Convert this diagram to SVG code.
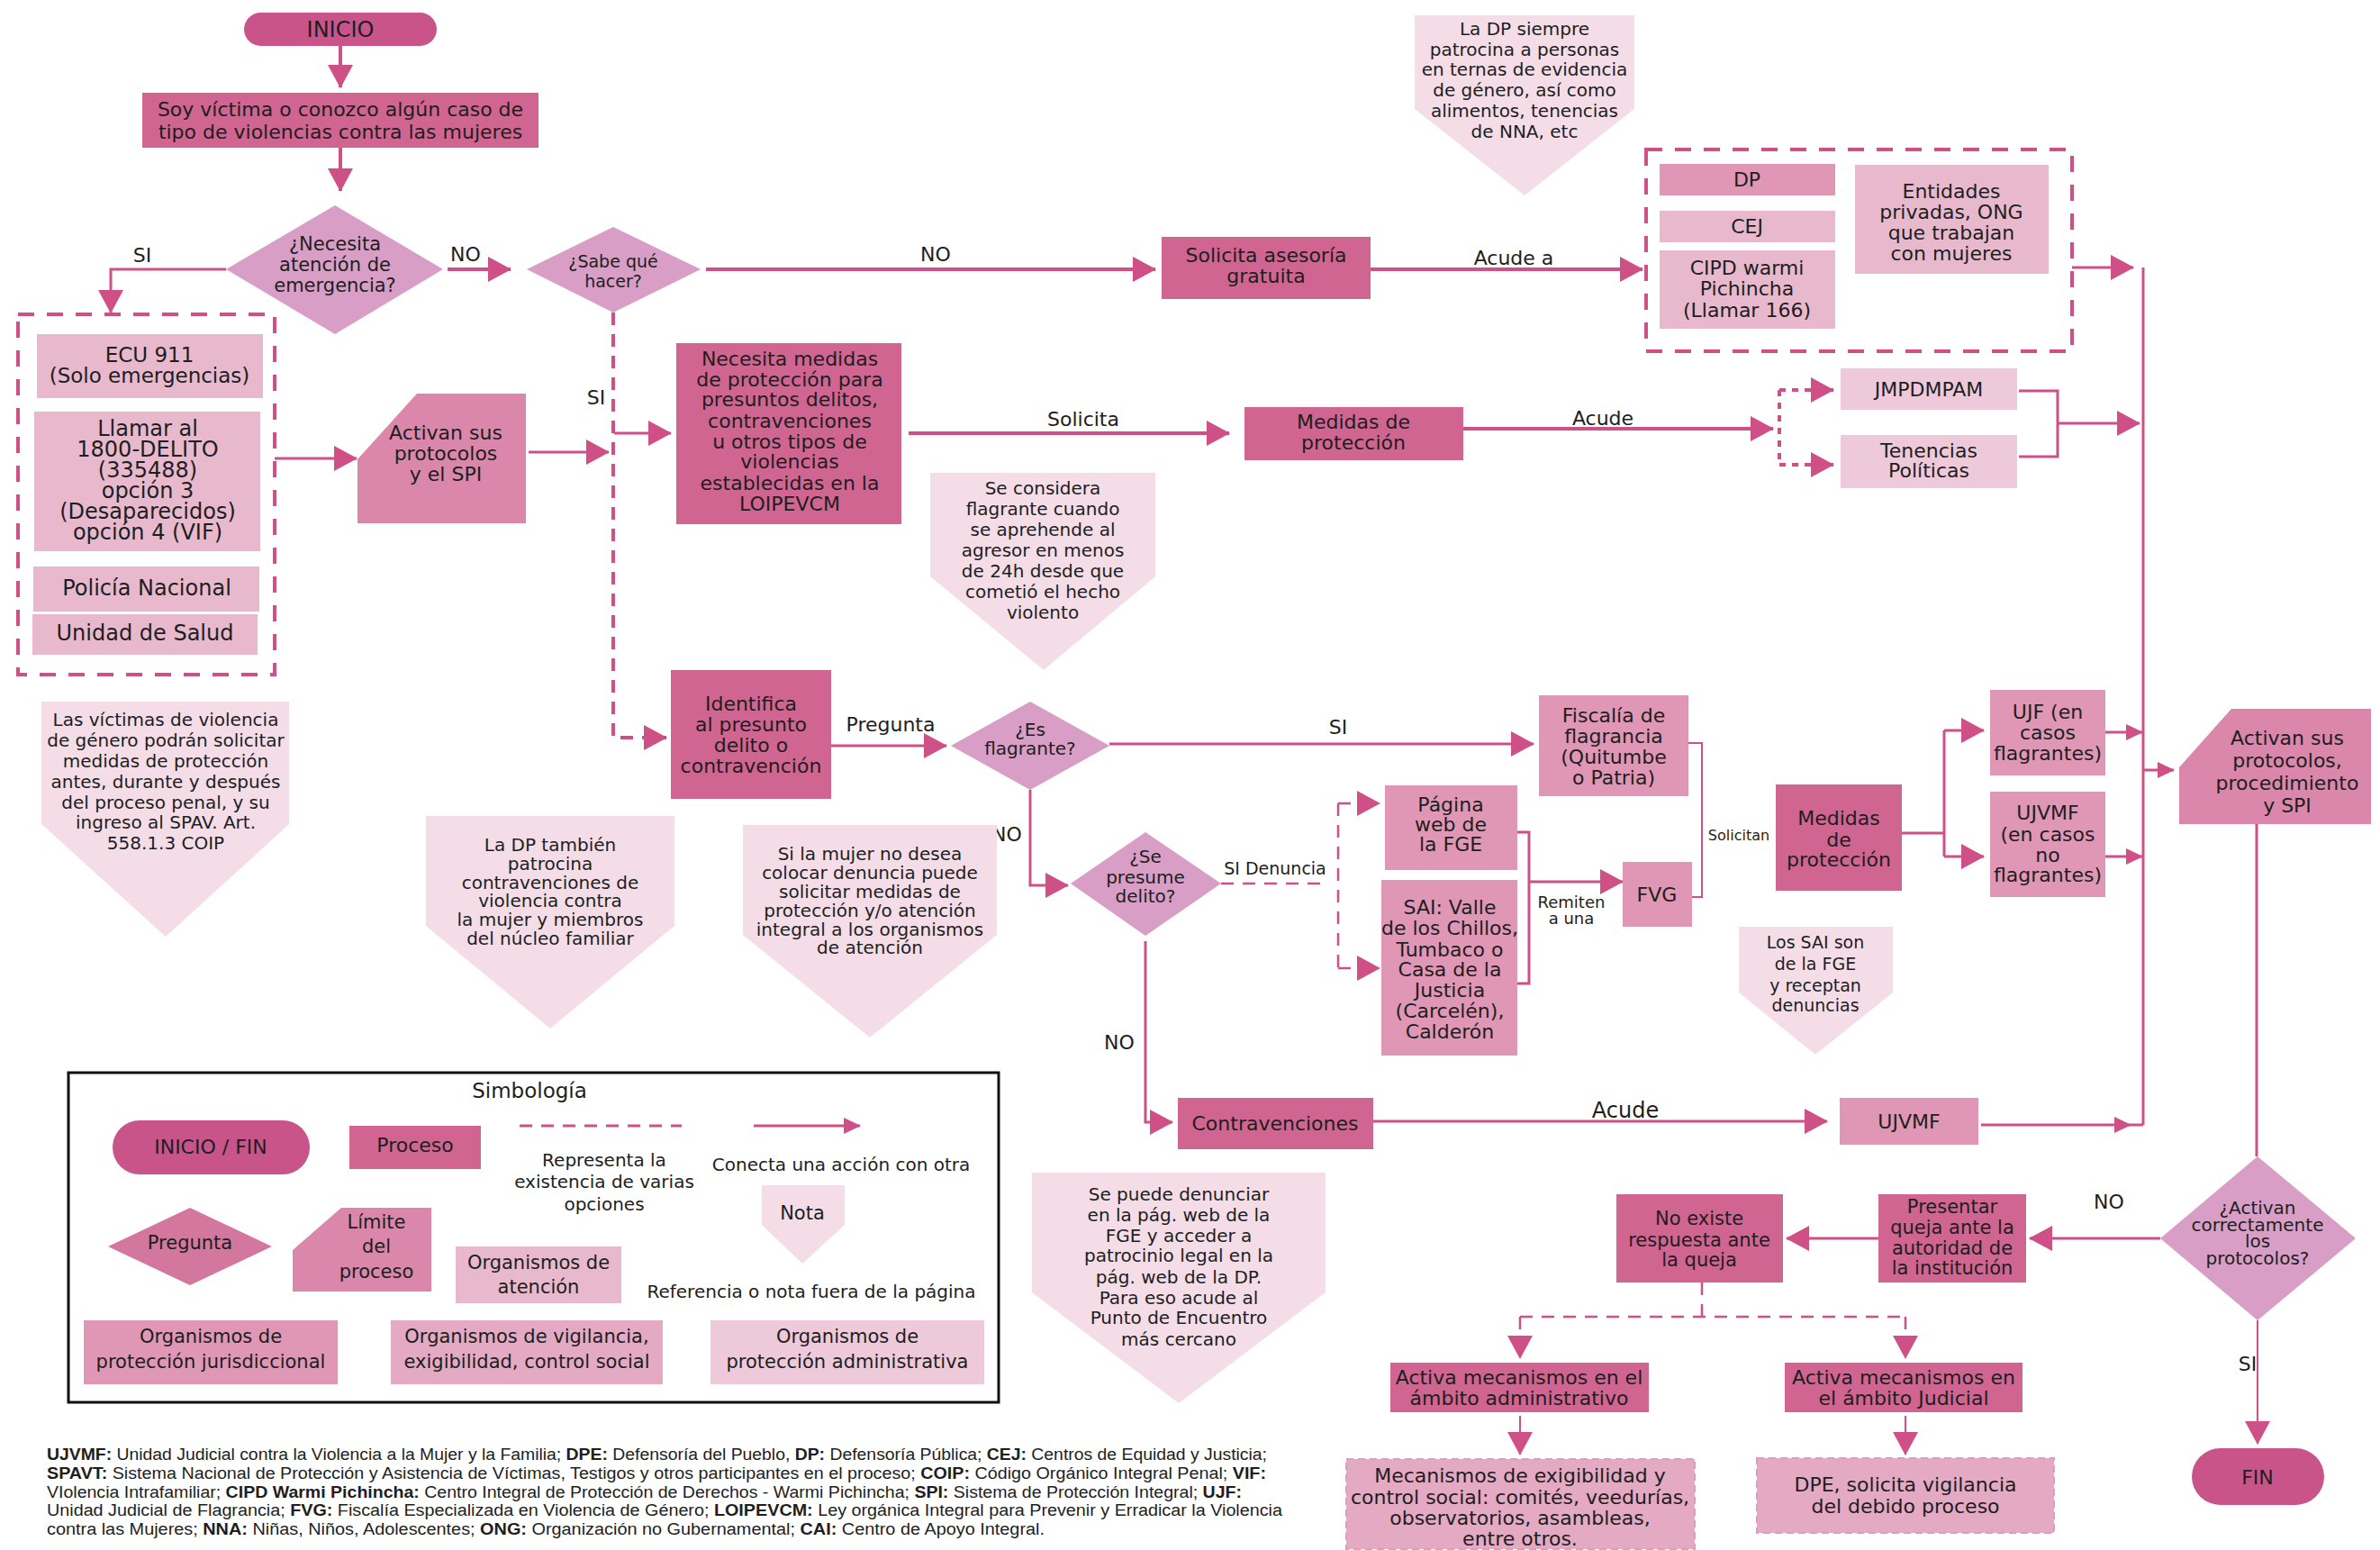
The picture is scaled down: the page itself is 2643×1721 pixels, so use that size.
<svg xmlns="http://www.w3.org/2000/svg" width="2643" height="1721" viewBox="0 0 2643 1721">
<defs>
<style>
.t{font-family:"DejaVu Sans","Liberation Sans",Arial,sans-serif;fill:#1e1e1e;text-anchor:middle}
.pill{fill:#c9548a}
.proc{fill:#d16591}
.dia{fill:#d89ec6}
.lim{fill:#da87ab}
.jur{fill:#e097b5}
.ate{fill:#e8b9cd}
.vig{fill:#e4a9c3}
.adm{fill:#edc9da}
.note{fill:#f4dde7}
.c{fill:none;stroke:#cf4f87;stroke-width:3}
.ct{fill:none;stroke:#cf4f87;stroke-width:4}
.cd{fill:none;stroke:#cf4f87;stroke-width:4;stroke-dasharray:14 10}
.cdt{fill:none;stroke:#cf4f87;stroke-width:2.5;stroke-dasharray:14 10}
.cdot{fill:none;stroke:#cf4f87;stroke-width:4;stroke-dasharray:7 7}
.grp{fill:none;stroke:#cf4f87;stroke-width:4;stroke-dasharray:18 14}
.dash{stroke:#d9a0bb;stroke-width:2;stroke-dasharray:8 5}
</style>
<marker id="ah" viewBox="0 0 26 28" refX="25" refY="14" markerWidth="26" markerHeight="28" markerUnits="userSpaceOnUse" orient="auto"><path d="M0,0L26,14L0,28z" fill="#cf4f87"/></marker>
<marker id="as" viewBox="0 0 19 18" refX="18" refY="9" markerWidth="19" markerHeight="18" markerUnits="userSpaceOnUse" orient="auto"><path d="M0,0L19,9L0,18z" fill="#cf4f87"/></marker>
</defs>
<rect width="2643" height="1721" fill="#ffffff"/>

<g id="connectors">
<path class="ct" d="M378,51V97" marker-end="url(#ah)"/>
<path class="ct" d="M378,164V212" marker-end="url(#ah)"/>
<path class="c" d="M251,299H123V347" marker-end="url(#ah)"/>
<path class="ct" d="M497,299H567" marker-end="url(#ah)"/>
<path class="ct" d="M784,299H1283" marker-end="url(#ah)"/>
<path class="ct" d="M1522,299H1824" marker-end="url(#ah)"/>
<path class="c" d="M2301,297H2369" marker-end="url(#ah)"/>
<path class="c" d="M2380,297V1249"/>
<path class="c" d="M305,509H396" marker-end="url(#ah)"/>
<path class="c" d="M587,502H676" marker-end="url(#ah)"/>
<path class="cd" d="M681,347V819H740" marker-end="url(#ah)"/>
<path class="c" d="M682,481H745" marker-end="url(#ah)"/>
<path class="ct" d="M1009,481H1365" marker-end="url(#ah)"/>
<path class="ct" d="M1625,476H1969" marker-end="url(#ah)"/>
<path class="cdot" d="M1976,433V516"/>
<path class="cdot" d="M1976,433H2036" marker-end="url(#ah)"/>
<path class="cdot" d="M1976,516H2036" marker-end="url(#ah)"/>
<path class="c" d="M2242,434H2285V507H2242"/>
<path class="c" d="M2285,470H2376" marker-end="url(#ah)"/>
<path class="c" d="M923,828H1051" marker-end="url(#ah)"/>
<path class="c" d="M1232,826H1703" marker-end="url(#ah)"/>
<path class="c" d="M1144,877V983H1186" marker-end="url(#ah)"/>
<path class="cdt" d="M1356,981H1470"/>
<path class="cdt" d="M1486,892V1075"/>
<path class="cdt" d="M1486,892H1532" marker-end="url(#ah)"/>
<path class="cdt" d="M1486,1075H1532" marker-end="url(#ah)"/>
<path class="c" d="M1685,924H1698V1092H1685"/>
<path class="c" d="M1698,979H1802" marker-end="url(#ah)"/>
<path class="c" style="stroke-width:2" d="M1875,825H1890V996H1879"/>
<path class="c" d="M2112,925H2159"/>
<path class="c" d="M2159,811V951"/>
<path class="c" d="M2159,811H2203" marker-end="url(#ah)"/>
<path class="c" d="M2159,951H2203" marker-end="url(#ah)"/>
<path class="c" d="M2338,813H2379" marker-end="url(#as)"/>
<path class="c" d="M2338,951H2379" marker-end="url(#as)"/>
<path class="c" d="M2380,855H2414" marker-end="url(#as)"/>
<path class="c" d="M2506,915V1284"/>
<path class="c" d="M1272,1045V1246H1302" marker-end="url(#ah)"/>
<path class="c" d="M1525,1245H2029" marker-end="url(#ah)"/>
<path class="c" d="M2200,1249H2366" marker-end="url(#as)"/>
<path class="c" d="M2366,1249H2380"/>
<path class="c" d="M2399,1375H2254" marker-end="url(#ah)"/>
<path class="c" d="M2086,1375H1984" marker-end="url(#ah)"/>
<path class="cdt" d="M1890,1424V1462"/>
<path class="cdt" d="M1688,1462H2116"/>
<path class="cdt" d="M1688,1462V1508" marker-end="url(#ah)"/>
<path class="cdt" d="M2116,1462V1508" marker-end="url(#ah)"/>
<path class="c" style="stroke-width:2" d="M1688,1572V1615" marker-end="url(#ah)"/>
<path class="c" style="stroke-width:2" d="M2116,1572V1615" marker-end="url(#ah)"/>
<path class="c" style="stroke-width:2" d="M2507,1466V1603" marker-end="url(#ah)"/>
<g class="t" font-size="22">
<text x="158" y="291">SI</text>
<text x="517" y="290">NO</text>
<text x="1039" y="290">NO</text>
<text x="1681" y="294">Acude a</text>
<text x="662" y="449">SI</text>
<text x="1203" y="473">Solicita</text>
<text x="1780" y="472">Acude</text>
<text x="989" y="812">Pregunta</text>
<text x="1486" y="815">SI</text>
<text x="1118" y="934">NO</text>
<text x="1243" y="1165">NO</text>
<text x="1805" y="1241" font-size="24">Acude</text>
<text x="2342" y="1342">NO</text>
<text x="2496" y="1522">SI</text>
<text x="1416" y="971" font-size="19">SI Denuncia</text>
<text x="1745" y="1008" font-size="18">Remiten</text>
<text x="1745" y="1026" font-size="18">a una</text>
<text x="1931" y="933" font-size="16">Solicitan</text>
</g>
</g>

<g id="inicio">
<rect class="pill" x="271" y="14" width="214" height="37" rx="18.5"/>
<text class="t" x="378" y="41" font-size="24">INICIO</text>
</g>
<g id="soy-victima">
<rect class="proc" x="158" y="103" width="440" height="61"/>
<text class="t" font-size="22"><tspan x="378" y="129">Soy víctima o conozco algún caso de</tspan><tspan x="378" y="154">tipo de violencias contra las mujeres</tspan></text>
</g>
<g id="q-emergencia">
<polygon class="dia" points="372,228 492,299 372,371 251,299"/>
<text class="t" font-size="21"><tspan x="372" y="278">¿Necesita</tspan><tspan x="372" y="301">atención de</tspan><tspan x="372" y="324">emergencia?</tspan></text>
</g>
<g id="q-sabe">
<polygon class="dia" points="681,252 778,299 681,347 585,299"/>
<text class="t" font-size="19"><tspan x="681" y="297">¿Sabe qué</tspan><tspan x="681" y="319">hacer?</tspan></text>
</g>
<g id="solicita-asesoria">
<rect class="proc" x="1290" y="263" width="232" height="69"/>
<text class="t" font-size="22"><tspan x="1406" y="291">Solicita asesoría</tspan><tspan x="1406" y="314">gratuita</tspan></text>
</g>
<g id="grupo-asesoria">
<rect class="grp" x="1828" y="166" width="473" height="224"/>
<rect class="jur" x="1843" y="182" width="195" height="35"/>
<text class="t" x="1940" y="207" font-size="22">DP</text>
<rect class="ate" x="1843" y="234" width="195" height="35"/>
<text class="t" x="1940" y="259" font-size="22">CEJ</text>
<rect class="ate" x="1843" y="278" width="195" height="87"/>
<text class="t" font-size="22"><tspan x="1940" y="305">CIPD warmi</tspan><tspan x="1940" y="328">Pichincha</tspan><tspan x="1940" y="352">(Llamar 166)</tspan></text>
<rect class="ate" x="2060" y="183" width="215" height="121"/>
<text class="t" font-size="22"><tspan x="2167" y="220">Entidades</tspan><tspan x="2167" y="243">privadas, ONG</tspan><tspan x="2167" y="266">que trabajan</tspan><tspan x="2167" y="289">con mujeres</tspan></text>
</g>
<g id="grupo-emergencia">
<rect class="grp" x="20" y="349" width="285" height="400"/>
<rect class="ate" x="41" y="371" width="251" height="71"/>
<text class="t" font-size="23"><tspan x="166" y="402">ECU 911</tspan><tspan x="166" y="425">(Solo emergencias)</tspan></text>
<rect class="ate" x="38" y="457" width="251" height="155"/>
<text class="t" font-size="24"><tspan x="164" y="484">Llamar al</tspan><tspan x="164" y="507">1800-DELITO</tspan><tspan x="164" y="530">(335488)</tspan><tspan x="164" y="553">opción 3</tspan><tspan x="164" y="576">(Desaparecidos)</tspan><tspan x="164" y="599">opción 4 (VIF)</tspan></text>
<rect class="ate" x="37" y="629" width="251" height="50"/>
<text class="t" x="163" y="661" font-size="24">Policía Nacional</text>
<rect class="ate" x="36" y="682" width="250" height="45"/>
<text class="t" x="161" y="711" font-size="24">Unidad de Salud</text>
</g>
<g id="activan-spi">
<polygon class="lim" points="463,437 584,437 584,581 397,581 397,510"/>
<text class="t" font-size="22"><tspan x="495" y="488">Activan sus</tspan><tspan x="495" y="511">protocolos</tspan><tspan x="495" y="534">y el SPI</tspan></text>
</g>
<g id="necesita-medidas">
<rect class="proc" x="751" y="381" width="250" height="201"/>
<text class="t" font-size="22"><tspan x="877" y="406">Necesita medidas</tspan><tspan x="877" y="429">de protección para</tspan><tspan x="877" y="451">presuntos delitos,</tspan><tspan x="877" y="475">contravenciones</tspan><tspan x="877" y="498">u otros tipos de</tspan><tspan x="877" y="520">violencias</tspan><tspan x="877" y="544">establecidas en la</tspan><tspan x="877" y="567">LOIPEVCM</tspan></text>
</g>
<g id="medidas-proteccion">
<rect class="proc" x="1382" y="452" width="243" height="59"/>
<text class="t" font-size="22"><tspan x="1503" y="476">Medidas de</tspan><tspan x="1503" y="499">protección</tspan></text>
</g>
<g id="jmpdmpam">
<rect class="adm" x="2044" y="409" width="196" height="46"/>
<text class="t" x="2142" y="440" font-size="22">JMPDMPAM</text>
</g>
<g id="tenencias">
<rect class="adm" x="2044" y="483" width="196" height="59"/>
<text class="t" font-size="22"><tspan x="2142" y="508">Tenencias</tspan><tspan x="2142" y="530">Políticas</tspan></text>
</g>
<g id="nota-flagrante">
<polygon class="note" points="1033,525 1283,525 1283,640 1159,744 1033,640"/>
<text class="t" font-size="20"><tspan x="1158" y="549">Se considera</tspan><tspan x="1158" y="572">flagrante cuando</tspan><tspan x="1158" y="595">se aprehende al</tspan><tspan x="1158" y="618">agresor en menos</tspan><tspan x="1158" y="641">de 24h desde que</tspan><tspan x="1158" y="664">cometió el hecho</tspan><tspan x="1158" y="687">violento</tspan></text>
</g>
<g id="nota-dp-siempre">
<polygon class="note" points="1571,17 1815,17 1815,121 1693,217 1571,121"/>
<text class="t" font-size="20"><tspan x="1693" y="39">La DP siempre</tspan><tspan x="1693" y="62">patrocina a personas</tspan><tspan x="1693" y="84">en ternas de evidencia</tspan><tspan x="1693" y="107">de género, así como</tspan><tspan x="1693" y="130">alimentos, tenencias</tspan><tspan x="1693" y="153">de NNA, etc</tspan></text>
</g>
<g id="nota-victimas">
<polygon class="note" points="46,779 321,779 321,915 184,1040 46,915"/>
<text class="t" font-size="20"><tspan x="184" y="806">Las víctimas de violencia</tspan><tspan x="184" y="829">de género podrán solicitar</tspan><tspan x="184" y="852">medidas de protección</tspan><tspan x="184" y="875">antes, durante y después</tspan><tspan x="184" y="898">del proceso penal, y su</tspan><tspan x="184" y="920">ingreso al SPAV. Art.</tspan><tspan x="184" y="943">558.1.3 COIP</tspan></text>
</g>
<g id="identifica">
<rect class="proc" x="745" y="744" width="178" height="143"/>
<text class="t" font-size="22"><tspan x="834" y="789">Identifica</tspan><tspan x="834" y="812">al presunto</tspan><tspan x="834" y="835">delito o</tspan><tspan x="834" y="858">contravención</tspan></text>
</g>
<g id="nota-dp-tambien">
<polygon class="note" points="473,906 749,906 749,1028 611,1142 473,1028"/>
<text class="t" font-size="20"><tspan x="611" y="945">La DP también</tspan><tspan x="611" y="966">patrocina</tspan><tspan x="611" y="987">contravenciones de</tspan><tspan x="611" y="1007">violencia contra</tspan><tspan x="611" y="1028">la mujer y miembros</tspan><tspan x="611" y="1049">del núcleo familiar</tspan></text>
</g>
<g id="nota-si-mujer">
<polygon class="note" points="825,916 1107,916 1107,1038 966,1152 825,1038"/>
<text class="t" font-size="20"><tspan x="966" y="955">Si la mujer no desea</tspan><tspan x="966" y="976">colocar denuncia puede</tspan><tspan x="966" y="997">solicitar medidas de</tspan><tspan x="966" y="1018">protección y/o atención</tspan><tspan x="966" y="1039">integral a los organismos</tspan><tspan x="966" y="1059">de atención</tspan></text>
</g>
<g id="q-flagrante">
<polygon class="dia" points="1144,779 1232,828 1144,877 1056,828"/>
<text class="t" font-size="20"><tspan x="1144" y="817">¿Es</tspan><tspan x="1144" y="838">flagrante?</tspan></text>
</g>
<g id="fiscalia-flagrancia">
<rect class="jur" x="1709" y="772" width="166" height="112"/>
<text class="t" font-size="22"><tspan x="1792" y="802">Fiscalía de</tspan><tspan x="1792" y="825">flagrancia</tspan><tspan x="1792" y="848">(Quitumbe</tspan><tspan x="1792" y="871">o Patria)</tspan></text>
</g>
<g id="q-delito">
<polygon class="dia" points="1272,924 1356,981 1272,1039 1189,981"/>
<text class="t" font-size="20"><tspan x="1272" y="958">¿Se</tspan><tspan x="1272" y="981">presume</tspan><tspan x="1272" y="1002">delito?</tspan></text>
</g>
<g id="pagina-fge">
<rect class="jur" x="1538" y="872" width="147" height="94"/>
<text class="t" font-size="22"><tspan x="1611" y="901">Página</tspan><tspan x="1611" y="923">web de</tspan><tspan x="1611" y="945">la FGE</tspan></text>
</g>
<g id="sai">
<rect class="jur" x="1534" y="977" width="151" height="195"/>
<text class="t" font-size="22"><tspan x="1610" y="1015">SAI: Valle</tspan><tspan x="1610" y="1038">de los Chillos,</tspan><tspan x="1610" y="1062">Tumbaco o</tspan><tspan x="1610" y="1084">Casa de la</tspan><tspan x="1610" y="1107">Justicia</tspan><tspan x="1610" y="1130">(Carcelén),</tspan><tspan x="1610" y="1153">Calderón</tspan></text>
</g>
<g id="fvg">
<rect class="jur" x="1802" y="957" width="77" height="72"/>
<text class="t" x="1840" y="1001" font-size="22">FVG</text>
</g>
<g id="medidas-proteccion-2">
<rect class="proc" x="1972" y="871" width="140" height="118"/>
<text class="t" font-size="22"><tspan x="2042" y="916">Medidas</tspan><tspan x="2042" y="940">de</tspan><tspan x="2042" y="962">protección</tspan></text>
</g>
<g id="ujf">
<rect class="jur" x="2210" y="766" width="128" height="95"/>
<text class="t" font-size="22"><tspan x="2274" y="798">UJF (en</tspan><tspan x="2274" y="821">casos</tspan><tspan x="2274" y="844">flagrantes)</tspan></text>
</g>
<g id="ujvmf-no-flagrantes">
<rect class="jur" x="2210" y="879" width="128" height="117"/>
<text class="t" font-size="22"><tspan x="2274" y="910">UJVMF</tspan><tspan x="2274" y="934">(en casos</tspan><tspan x="2274" y="957">no</tspan><tspan x="2274" y="979">flagrantes)</tspan></text>
</g>
<g id="activan-procedimiento">
<polygon class="lim" points="2478,787 2633,787 2633,915 2420,915 2420,852"/>
<text class="t" font-size="22"><tspan x="2540" y="827">Activan sus</tspan><tspan x="2540" y="852">protocolos,</tspan><tspan x="2540" y="877">procedimiento</tspan><tspan x="2540" y="902">y SPI</tspan></text>
</g>
<g id="nota-sai">
<polygon class="note" points="1931,1029 2102,1029 2102,1102 2016,1171 1931,1102"/>
<text class="t" font-size="19"><tspan x="2016" y="1053">Los SAI son</tspan><tspan x="2016" y="1077">de la FGE</tspan><tspan x="2016" y="1101">y receptan</tspan><tspan x="2016" y="1123">denuncias</tspan></text>
</g>
<g id="contravenciones">
<rect class="proc" x="1308" y="1219" width="217" height="57"/>
<text class="t" x="1416" y="1255" font-size="22">Contravenciones</text>
</g>
<g id="ujvmf">
<rect class="jur" x="2043" y="1219" width="154" height="52"/>
<text class="t" x="2120" y="1253" font-size="22">UJVMF</text>
</g>
<g id="nota-denunciar">
<polygon class="note" points="1146,1302 1472,1302 1472,1435 1309,1558 1146,1435"/>
<text class="t" font-size="20"><tspan x="1309" y="1333">Se puede denunciar</tspan><tspan x="1309" y="1356">en la pág. web de la</tspan><tspan x="1309" y="1379">FGE y acceder a</tspan><tspan x="1309" y="1401">patrocinio legal en la</tspan><tspan x="1309" y="1425">pág. web de la DP.</tspan><tspan x="1309" y="1448">Para eso acude al</tspan><tspan x="1309" y="1470">Punto de Encuentro</tspan><tspan x="1309" y="1494">más cercano</tspan></text>
</g>
<g id="q-activan">
<polygon class="dia" points="2507,1284 2616,1375 2507,1466 2399,1375"/>
<text class="t" font-size="20"><tspan x="2507" y="1348">¿Activan</tspan><tspan x="2507" y="1367">correctamente</tspan><tspan x="2507" y="1385">los</tspan><tspan x="2507" y="1404">protocolos?</tspan></text>
</g>
<g id="presentar-queja">
<rect class="proc" x="2086" y="1326" width="164" height="98"/>
<text class="t" font-size="21"><tspan x="2168" y="1347">Presentar</tspan><tspan x="2168" y="1370">queja ante la</tspan><tspan x="2168" y="1393">autoridad de</tspan><tspan x="2168" y="1415">la institución</tspan></text>
</g>
<g id="no-existe">
<rect class="proc" x="1795" y="1326" width="185" height="98"/>
<text class="t" font-size="21"><tspan x="1887" y="1360">No existe</tspan><tspan x="1887" y="1384">respuesta ante</tspan><tspan x="1887" y="1406">la queja</tspan></text>
</g>
<g id="activa-administrativo">
<rect class="proc" x="1544" y="1513" width="287" height="55"/>
<text class="t" font-size="22"><tspan x="1687" y="1537">Activa mecanismos en el</tspan><tspan x="1687" y="1560">ámbito administrativo</tspan></text>
</g>
<g id="activa-judicial">
<rect class="proc" x="1982" y="1513" width="264" height="55"/>
<text class="t" font-size="22"><tspan x="2114" y="1537">Activa mecanismos en</tspan><tspan x="2114" y="1560">el ámbito Judicial</tspan></text>
</g>
<g id="mecanismos">
<rect class="vig dash" x="1495" y="1620" width="387" height="100"/>
<text class="t" font-size="22"><tspan x="1688" y="1646">Mecanismos de exigibilidad y</tspan><tspan x="1688" y="1670">control social: comités, veedurías,</tspan><tspan x="1688" y="1693">observatorios, asambleas,</tspan><tspan x="1688" y="1716">entre otros.</tspan></text>
</g>
<g id="dpe">
<rect class="vig dash" x="1951" y="1619" width="330" height="83"/>
<text class="t" font-size="22"><tspan x="2116" y="1656">DPE, solicita vigilancia</tspan><tspan x="2116" y="1680">del debido proceso</tspan></text>
</g>
<g id="fin">
<rect class="pill" x="2434" y="1608" width="147" height="63" rx="31.5"/>
<text class="t" x="2507" y="1648" font-size="22">FIN</text>
</g>

<g id="simbologia">
<rect x="76" y="1191" width="1033" height="366" fill="none" stroke="#111" stroke-width="3"/>
<text class="t" x="588" y="1219" font-size="23">Simbología</text>
<rect class="pill" x="125" y="1244" width="219" height="60" rx="30"/>
<text class="t" x="234" y="1281" font-size="22">INICIO / FIN</text>
<rect class="proc" x="388" y="1250" width="146" height="48"/>
<text class="t" x="461" y="1279" font-size="22">Proceso</text>
<path d="M577,1250H757" class="cdt" style="stroke-width:3"/>
<path d="M837,1250H955" class="c" marker-end="url(#as)"/>
<text class="t" font-size="20"><tspan x="671" y="1295">Representa la</tspan><tspan x="671" y="1319">existencia de varias</tspan><tspan x="671" y="1344">opciones</tspan></text>
<text class="t" x="934" y="1300" font-size="20">Conecta una acción con otra</text>
<polygon class="note" points="846,1316 938,1316 938,1360 891,1403 846,1360"/>
<text class="t" x="891" y="1354" font-size="21">Nota</text>
<polygon points="211,1341 302,1384 211,1427 120,1384" fill="#d4779f"/>
<text class="t" x="211" y="1387" font-size="21">Pregunta</text>
<polygon class="lim" points="379,1341 479,1341 479,1434 325,1434 325,1388"/>
<text class="t" font-size="21"><tspan x="418" y="1364">Límite</tspan><tspan x="418" y="1391">del</tspan><tspan x="418" y="1419">proceso</tspan></text>
<rect class="ate" x="506" y="1384" width="184" height="63"/>
<text class="t" font-size="21"><tspan x="598" y="1409">Organismos de</tspan><tspan x="598" y="1436">atención</tspan></text>
<text class="t" x="901" y="1441" font-size="20">Referencia o nota fuera de la página</text>
<rect class="jur" x="93" y="1466" width="282" height="71"/>
<text class="t" font-size="21"><tspan x="234" y="1491">Organismos de</tspan><tspan x="234" y="1519">protección jurisdiccional</tspan></text>
<rect class="vig" x="434" y="1466" width="302" height="71"/>
<text class="t" font-size="21"><tspan x="585" y="1491">Organismos de vigilancia,</tspan><tspan x="585" y="1519">exigibilidad, control social</tspan></text>
<rect class="adm" x="789" y="1466" width="304" height="71"/>
<text class="t" font-size="21"><tspan x="941" y="1491">Organismos de</tspan><tspan x="941" y="1519">protección administrativa</tspan></text>
</g>

<g id="abreviaturas" font-family="Liberation Sans, Arial, sans-serif" font-size="18" fill="#1e1e1e">
<text x="52" y="1621" textLength="1355" lengthAdjust="spacingAndGlyphs"><tspan font-weight="bold">UJVMF:</tspan> Unidad Judicial contra la Violencia a la Mujer y la Familia; <tspan font-weight="bold">DPE:</tspan> Defensoría del Pueblo, <tspan font-weight="bold">DP:</tspan> Defensoría Pública; <tspan font-weight="bold">CEJ:</tspan> Centros de Equidad y Justicia;</text>
<text x="52" y="1642" textLength="1354" lengthAdjust="spacingAndGlyphs"><tspan font-weight="bold">SPAVT:</tspan> Sistema Nacional de Protección y Asistencia de Víctimas, Testigos y otros participantes en el proceso; <tspan font-weight="bold">COIP:</tspan> Código Orgánico Integral Penal; <tspan font-weight="bold">VIF:</tspan></text>
<text x="52" y="1663" textLength="1327" lengthAdjust="spacingAndGlyphs">VIolencia Intrafamiliar; <tspan font-weight="bold">CIPD Warmi Pichincha:</tspan> Centro Integral de Protección de Derechos - Warmi Pichincha; <tspan font-weight="bold">SPI:</tspan> Sistema de Protección Integral; <tspan font-weight="bold">UJF:</tspan></text>
<text x="52" y="1683" textLength="1372" lengthAdjust="spacingAndGlyphs">Unidad Judicial de Flagrancia; <tspan font-weight="bold">FVG:</tspan> Fiscalía Especializada en Violencia de Género; <tspan font-weight="bold">LOIPEVCM:</tspan> Ley orgánica Integral para Prevenir y Erradicar la Violencia</text>
<text x="52" y="1704" textLength="1108" lengthAdjust="spacingAndGlyphs">contra las Mujeres; <tspan font-weight="bold">NNA:</tspan> Niñas, Niños, Adolescentes; <tspan font-weight="bold">ONG:</tspan> Organización no Gubernamental; <tspan font-weight="bold">CAI:</tspan> Centro de Apoyo Integral.</text>
</g>
</svg>
